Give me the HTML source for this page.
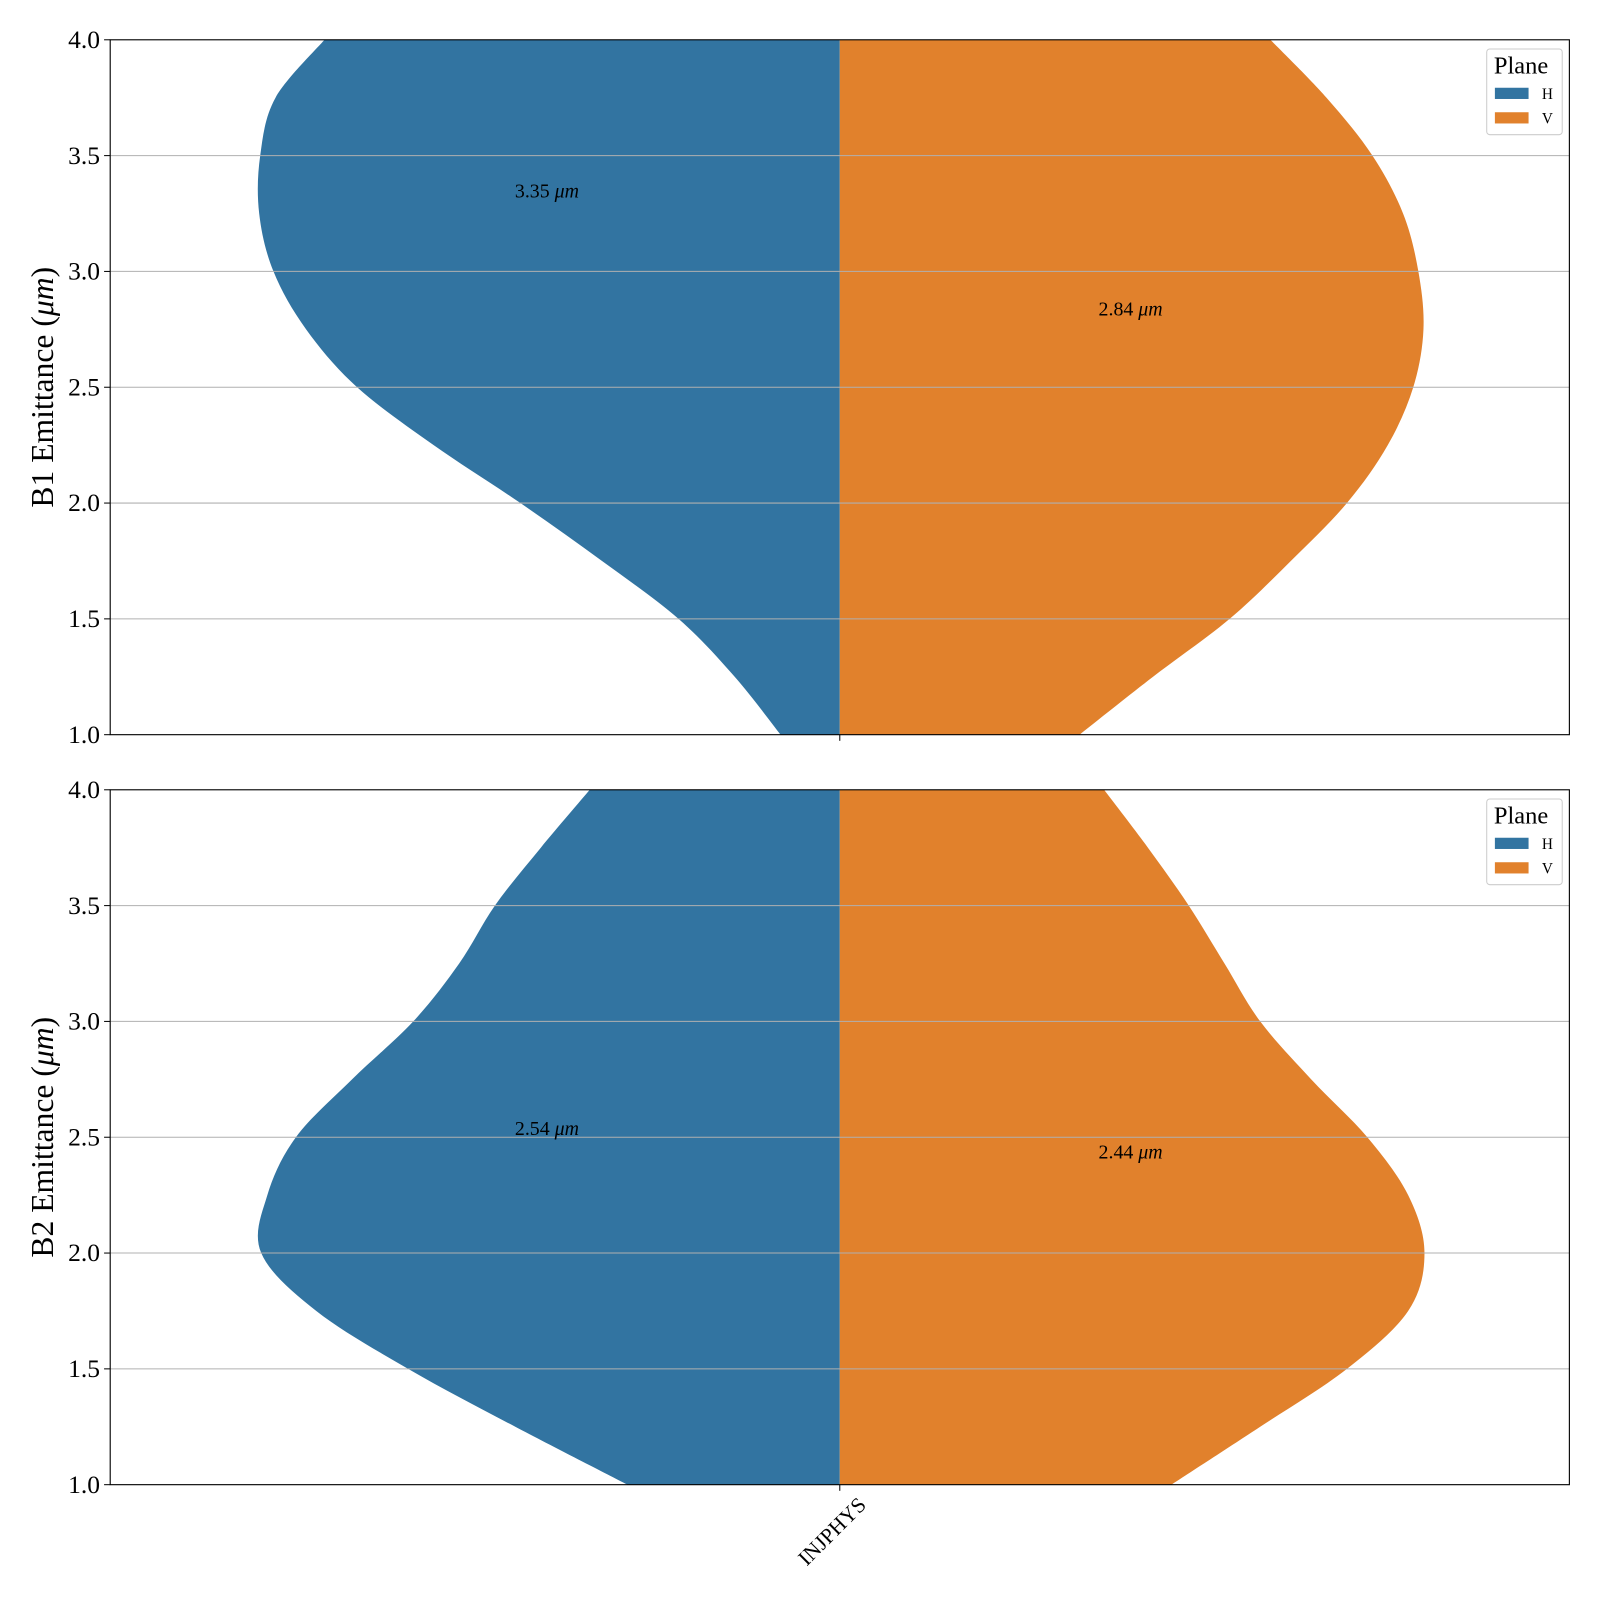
<!DOCTYPE html>
<html><head><meta charset="utf-8"><style>
body{margin:0;background:#fff}
svg{display:block;font-family:"Liberation Serif",serif}
</style></head><body>
<svg id="chart" width="1600" height="1600" viewBox="0 0 1600 1600" xmlns="http://www.w3.org/2000/svg"><g id="root" transform="scale(1.0204)"></g></svg>
<script>
const yTicks=[1.0,1.5,2.0,2.5,3.0,3.5,4.0];
const category="INJPHYS";
const b1HLevels=[4.0,3.75,3.5,3.25,3.0,2.75,2.5,2.25,2.0,1.75,1.5,1.25,1.0];
const b1HWidth=[505,553,568,569,555,523,473,398,313,233,158,103,58];
const b1VLevels=[4.0,3.75,3.5,3.25,3.0,2.75,2.5,2.25,2.0,1.75,1.5,1.25,1.0];
const b1VWidth=[422,477,522,552,567,572,562,537,497,442,382,307,235];
const b2HLevels=[4.0,3.75,3.5,3.25,3.0,2.75,2.5,2.25,2.0,1.75,1.5,1.25,1.0];
const b2HWidth=[245,293,338,373,418,478,533,561,567,513,423,318,208];
const b2VLevels=[4.0,3.75,3.5,3.25,3.0,2.75,2.5,2.25,2.0,1.75,1.5,1.25,1.0];
const b2VWidth=[259,302,342,377,412,462,517,557,573,557,497,412,325];
const medians=[[3.35,2.84],[2.54,2.44]];
const labels=[["3.35","2.84"],["2.54","2.44"]];
const NS="http://www.w3.org/2000/svg";
const svg=document.getElementById('root');
const L=108,R=1538,CX=823;
const panels=[{top:39,bot:720,name:'b1',yl:'B1 Emittance ('},{top:774,bot:1455,name:'b2',yl:'B2 Emittance ('}];
const data=[[[b1HLevels,b1HWidth],[b1VLevels,b1VWidth]],[[b2HLevels,b2HWidth],[b2VLevels,b2VWidth]]];
function mk(t,a,p){const e=document.createElementNS(NS,t);for(const k in a)e.setAttribute(k,a[k]);(p||svg).appendChild(e);return e;}
function smoothPath(pts){let d='M'+pts[0][0]+','+pts[0][1];
for(let i=0;i<pts.length-1;i++){const p0=pts[Math.max(0,i-1)],p1=pts[i],p2=pts[i+1],p3=pts[Math.min(pts.length-1,i+2)];
const c1=[p1[0]+(p2[0]-p0[0])/6,p1[1]+(p2[1]-p0[1])/6],c2=[p2[0]-(p3[0]-p1[0])/6,p2[1]-(p3[1]-p1[1])/6];
d+=' C'+c1[0]+','+c1[1]+' '+c2[0]+','+c2[1]+' '+p2[0]+','+p2[1];}return d;}
panels.forEach((P,pi)=>{
 const y=v=>P.bot-(v-1)/3*(P.bot-P.top);
 const g=mk('g',{});
 
 
 const cp=mk('clipPath',{id:'clip'+pi},g);mk('rect',{x:L,y:P.top,width:R-L,height:P.bot-P.top},cp);
 const colors=['#3274a1','#e1812c'];
 data[pi].forEach((s,si)=>{
  const [lv,w]=s;const sign=si===0?-1:1;
  const pts=lv.map((v,i)=>[CX+sign*w[i],y(v)]);
  let d=smoothPath(pts)+' L'+CX+','+y(lv[lv.length-1])+' L'+CX+','+y(lv[0])+' Z';
  const p=mk('path',{d:d,fill:colors[si],'clip-path':'url(#clip'+pi+')'},g);
  
  
 });
 yTicks.forEach(t=>{
  if(t>1&&t<4){const gl=mk('line',{x1:L,x2:R,y1:y(t),y2:y(t),stroke:'#b0b0b0','stroke-width':1},g);
  }
  mk('line',{x1:L-6,x2:L,y1:y(t),y2:y(t),stroke:'#000','stroke-width':1},g);
  const tx=mk('text',{x:L-10,y:y(t)+8,'text-anchor':'end','font-size':25},g);tx.textContent=t.toFixed(1);
  
 });
 mk('rect',{x:L,y:P.top,width:R-L,height:P.bot-P.top,fill:'none',stroke:'#000','stroke-width':1.1},g);
 mk('line',{x1:CX,x2:CX,y1:P.bot,y2:P.bot+6,stroke:'#000'},g);
 medians[pi].forEach((m,si)=>{
  const tx=mk('text',{x:si===0?536:1108,y:y(m)+7,'text-anchor':'middle','font-size':19.5},g);
  tx.innerHTML=labels[pi][si]+' <tspan font-style="italic">μm</tspan>';
  
 });
 const yl=mk('text',{transform:'translate(52,'+((P.top+P.bot)/2)+') rotate(-90)','text-anchor':'middle','font-size':31},g);
 yl.innerHTML=P.yl+'<tspan font-style="italic">μm</tspan>)';
 
 const lg=mk('g',{},g);
 
 mk('rect',{x:1457,y:P.top+9,width:74,height:84,rx:3,fill:'#fff',stroke:'#ccc'},lg);
 const lt=mk('text',{x:1464,y:P.top+33,'font-size':24},lg);lt.textContent='Plane';
 ['H','V'].forEach((n,i)=>{
  mk('rect',{x:1465,y:P.top+47+i*24,width:33,height:11,fill:colors[i]},lg);
  const t=mk('text',{x:1511,y:P.top+58+i*24,'font-size':15},lg);t.textContent=n;
  
 });
});
const xl=mk('text',{transform:'translate(850,1476) rotate(-45)','text-anchor':'end','font-size':21});
xl.textContent=category;


</script>
</body></html>
